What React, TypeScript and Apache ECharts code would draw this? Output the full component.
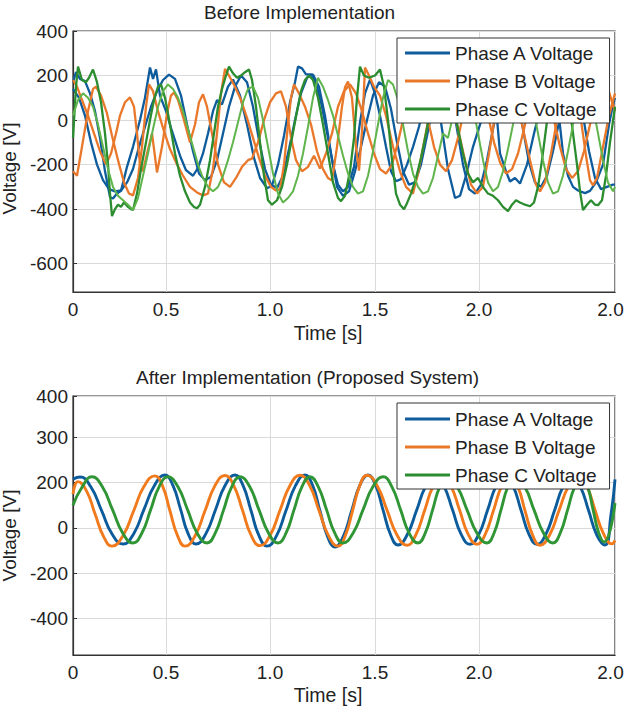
import React, { useEffect, useRef } from "react";
import * as echarts from "echarts";

const FONT = "'Liberation Sans', Arial, Helvetica, sans-serif";

const seriesNames = ["Phase A Voltage", "Phase B Voltage", "Phase C Voltage"];

const xTickValues = [0, 0.465, 0.985, 1.51, 2.03, 2.71];
const xTickLabels = ["0", "0.5", "1.0", "1.5", "2.0", "2.0"];
const topYTickValues = [-642, -400, -200, 0, 200, 400];
const topYTickLabels = ["-600", "-400", "-200", "0", "200", "400"];
const bottomYTickValues = [-400, -200, 0, 200, 400, 583];
const bottomYTickLabels = ["-400", "-200", "0", "200", "300", "400"];

// ---- Before Implementation (distorted) ----
const beforeA1 = [[0,170],[0.015,215],[0.035,185],[0.06,175],[0.085,120],[0.11,40],[0.135,-80],[0.16,-230],[0.185,-345],[0.2,-352],[0.22,-330],[0.24,-318],[0.27,-210],[0.3,-120],[0.335,0],[0.36,100],[0.385,236],[0.4,185],[0.415,228],[0.435,110],[0.465,40],[0.495,-50],[0.535,-160],[0.565,-225],[0.6,-250],[0.625,-215],[0.65,-150],[0.675,-60],[0.7,40],[0.72,90],[0.745,70],[0.775,150],[0.8,182],[0.835,110],[0.87,-20],[0.905,-170],[0.935,-260],[0.97,-306],[0.995,-295],[1.025,-200],[1.055,-70],[1.085,80],[1.11,170],[1.125,240],[1.145,232],[1.165,205],[1.195,205],[1.22,150],[1.245,60],[1.275,-80],[1.3,-200],[1.325,-290],[1.35,-320],[1.375,-300],[1.405,-210],[1.435,-10],[1.46,120],[1.485,182],[1.51,120],[1.535,20],[1.565,-120],[1.59,-230],[1.615,-275],[1.64,-265],[1.67,-200],[1.7,-120],[1.73,-30],[1.76,90],[1.785,180],[1.815,130],[1.845,-40],[1.875,-220],[1.91,-350],[1.935,-340],[1.965,-250],[2.0,-120],[2.035,-20],[2.065,60],[2.09,150],[2.115,60],[2.135,-150],[2.165,-230],[2.185,-276],[2.21,-260],[2.235,-285],[2.27,-200],[2.305,-60],[2.335,50],[2.37,120],[2.395,150],[2.42,100],[2.45,-150],[2.475,-250],[2.5,-300],[2.525,-316],[2.56,-328],[2.585,-318],[2.615,-280],[2.65,-200],[2.68,-20],[2.7,70],[2.71,100]];

const beforeA2 = [[0,140],[0.03,100],[0.06,20],[0.09,-100],[0.12,-200],[0.15,-270],[0.18,-310],[0.21,-320],[0.24,-316],[0.27,-280],[0.3,-220],[0.33,-120],[0.36,-30],[0.39,60],[0.42,130],[0.45,180],[0.48,204],[0.51,185],[0.54,110],[0.57,-20],[0.6,-140],[0.63,-240],[0.66,-270],[0.69,-255],[0.72,-180],[0.75,-60],[0.78,60],[0.81,150],[0.84,200],[0.87,170],[0.9,60],[0.93,-90],[0.96,-220],[0.99,-290],[1.02,-305],[1.05,-250],[1.08,-130],[1.11,0],[1.14,120],[1.17,190],[1.2,205],[1.23,150],[1.26,20],[1.29,-150],[1.32,-300],[1.35,-340],[1.38,-320],[1.41,-230],[1.44,-120],[1.47,0],[1.5,110],[1.53,170],[1.56,150],[1.59,50],[1.62,-100],[1.65,-230],[1.68,-290],[1.71,-280],[1.74,-200],[1.77,-70],[1.8,60],[1.83,170],[1.86,190],[1.89,120],[1.92,-40],[1.95,-200],[1.98,-310],[2.01,-330],[2.04,-290],[2.07,-180],[2.1,-40],[2.13,90],[2.16,180],[2.19,190],[2.22,110],[2.25,-40],[2.28,-190],[2.31,-280],[2.34,-300],[2.37,-250],[2.4,-140],[2.43,-10],[2.46,120],[2.49,180],[2.52,140],[2.55,20],[2.58,-140],[2.61,-260],[2.64,-310],[2.67,-300],[2.7,-290],[2.71,-290]];

const beforeB1 = [[0,-230],[0.02,-250],[0.045,-120],[0.075,40],[0.1,140],[0.115,150],[0.14,110],[0.17,30],[0.195,-70],[0.225,-180],[0.255,-280],[0.28,-330],[0.3,-338],[0.325,-260],[0.345,-120],[0.365,60],[0.38,160],[0.4,130],[0.425,40],[0.455,-50],[0.485,-130],[0.515,-190],[0.55,-250],[0.585,-300],[0.62,-325],[0.65,-338],[0.675,-330],[0.7,-220],[0.72,-60],[0.74,120],[0.76,230],[0.78,200],[0.81,150],[0.84,90],[0.87,10],[0.9,-80],[0.93,-170],[0.96,-250],[0.99,-300],[1.015,-316],[1.035,-310],[1.055,-200],[1.075,-20],[1.09,100],[1.105,160],[1.13,120],[1.16,60],[1.19,-20],[1.22,-140],[1.25,-220],[1.275,-260],[1.295,-271],[1.32,-120],[1.345,60],[1.36,147],[1.375,173],[1.395,100],[1.415,-120],[1.43,-227],[1.445,-50],[1.46,236],[1.48,200],[1.505,150],[1.535,110],[1.565,20],[1.6,-120],[1.635,-230],[1.665,-300],[1.7,-330],[1.725,-240],[1.755,-100],[1.785,40],[1.815,150],[1.84,220],[1.865,180],[1.895,80],[1.925,-40],[1.96,-180],[1.99,-290],[2.02,-329],[2.05,-300],[2.08,-150],[2.11,20],[2.14,150],[2.17,210],[2.2,160],[2.23,40],[2.26,-80],[2.29,-200],[2.315,-290],[2.335,-320],[2.36,-280],[2.39,-150],[2.42,0],[2.45,140],[2.48,200],[2.505,160],[2.535,30],[2.565,-160],[2.585,-270],[2.6,-293],[2.62,-260],[2.65,-120],[2.68,20],[2.71,120]];

const beforeB2 = [[0,180],[0.02,150],[0.045,90],[0.075,20],[0.105,-60],[0.135,-140],[0.165,-200],[0.19,-150],[0.215,-60],[0.235,20],[0.26,80],[0.285,102],[0.305,60],[0.32,-60],[0.335,-200],[0.35,-230],[0.37,-150],[0.395,-60],[0.42,-235],[0.445,-120],[0.47,30],[0.49,110],[0.505,124],[0.525,90],[0.555,0],[0.585,-100],[0.61,-20],[0.63,80],[0.65,116],[0.67,60],[0.695,-60],[0.725,-200],[0.755,-280],[0.785,-300],[0.815,-260],[0.845,-210],[0.875,-180],[0.895,-173],[0.925,-100],[0.955,0],[0.985,80],[1.015,120],[1.04,129],[1.065,60],[1.09,-80],[1.115,-180],[1.145,-230],[1.175,-210],[1.205,-160],[1.235,-218],[1.265,-150],[1.295,-60],[1.325,60],[1.355,130],[1.385,160],[1.415,120],[1.445,40],[1.475,-60],[1.505,-150],[1.535,-220],[1.565,-240],[1.595,-200],[1.625,-100],[1.655,20],[1.685,130],[1.715,180],[1.745,120],[1.775,0],[1.805,-120],[1.835,-200],[1.865,-230],[1.895,-180],[1.925,-80],[1.955,40],[1.985,150],[2.015,190],[2.045,130],[2.075,20],[2.105,-100],[2.135,-190],[2.165,-240],[2.195,-220],[2.225,-150],[2.255,-40],[2.285,80],[2.315,170],[2.345,190],[2.375,120],[2.405,0],[2.435,-120],[2.465,-220],[2.495,-260],[2.525,-230],[2.555,-140],[2.585,-20],[2.615,100],[2.645,170],[2.675,140],[2.71,40]];

const beforeC1 = [[0,-80],[0.015,150],[0.025,240],[0.045,180],[0.065,170],[0.08,190],[0.1,227],[0.12,170],[0.14,80],[0.16,-60],[0.175,-200],[0.185,-330],[0.195,-431],[0.21,-400],[0.225,-380],[0.24,-390],[0.255,-370],[0.275,-390],[0.29,-400],[0.3,-404],[0.32,-330],[0.34,-220],[0.365,-100],[0.385,0],[0.405,90],[0.425,150],[0.44,160],[0.46,100],[0.485,-20],[0.51,-150],[0.535,-250],[0.56,-320],[0.585,-370],[0.605,-390],[0.62,-396],[0.635,-380],[0.66,-300],[0.685,-180],[0.705,-60],[0.725,60],[0.745,140],[0.765,200],[0.78,240],[0.8,210],[0.82,190],[0.84,200],[0.86,215],[0.88,227],[0.895,180],[0.915,60],[0.935,-100],[0.955,-250],[0.975,-360],[0.995,-380],[1.02,-360],[1.045,-300],[1.07,-200],[1.095,-80],[1.12,40],[1.14,130],[1.16,180],[1.18,200],[1.2,180],[1.225,100],[1.25,-20],[1.275,-150],[1.3,-280],[1.325,-350],[1.34,-364],[1.36,-340],[1.385,-230],[1.405,-80],[1.42,100],[1.435,240],[1.455,200],[1.48,190],[1.51,200],[1.535,227],[1.555,150],[1.575,0],[1.595,-180],[1.615,-330],[1.635,-380],[1.655,-400],[1.67,-373],[1.69,-330],[1.715,-260],[1.74,-170],[1.765,-60],[1.79,60],[1.815,150],[1.84,210],[1.87,180],[1.9,80],[1.925,-40],[1.95,-150],[1.975,-240],[2.0,-280],[2.025,-260],[2.05,-300],[2.075,-330],[2.1,-340],[2.125,-360],[2.15,-390],[2.175,-409],[2.195,-380],[2.215,-360],[2.235,-370],[2.26,-380],[2.285,-387],[2.305,-370],[2.325,-300],[2.345,-180],[2.365,-40],[2.385,100],[2.41,200],[2.435,220],[2.46,180],[2.48,80],[2.5,-60],[2.52,-200],[2.535,-320],[2.55,-404],[2.57,-380],[2.59,-360],[2.61,-380],[2.625,-382],[2.645,-360],[2.665,-250],[2.685,-100],[2.71,60]];

const beforeC2 = [[0,20],[0.025,90],[0.05,120],[0.075,100],[0.1,60],[0.125,-20],[0.15,-120],[0.175,-220],[0.2,-300],[0.225,-340],[0.25,-360],[0.275,-380],[0.3,-404],[0.325,-350],[0.35,-250],[0.375,-150],[0.4,-40],[0.425,60],[0.45,130],[0.475,160],[0.5,140],[0.525,100],[0.55,40],[0.575,-40],[0.6,-120],[0.625,-200],[0.65,-260],[0.675,-300],[0.7,-320],[0.725,-300],[0.75,-250],[0.775,-180],[0.8,-100],[0.825,-10],[0.85,80],[0.875,140],[0.9,150],[0.925,100],[0.95,0],[0.975,-120],[1.0,-240],[1.025,-330],[1.05,-370],[1.075,-350],[1.1,-320],[1.125,-250],[1.15,-150],[1.175,-30],[1.2,100],[1.225,190],[1.25,150],[1.275,90],[1.3,20],[1.325,-70],[1.35,-160],[1.375,-240],[1.4,-300],[1.425,-330],[1.45,-320],[1.475,-250],[1.5,-140],[1.525,-20],[1.55,100],[1.575,180],[1.6,160],[1.625,90],[1.65,-20],[1.675,-140],[1.7,-240],[1.725,-300],[1.75,-330],[1.775,-320],[1.8,-260],[1.825,-160],[1.85,-60],[1.875,-80],[1.9,20],[1.925,120],[1.95,180],[1.975,150],[2.0,60],[2.025,-60],[2.05,-180],[2.075,-280],[2.1,-320],[2.125,-300],[2.15,-230],[2.175,-130],[2.2,-20],[2.225,100],[2.25,170],[2.275,150],[2.3,60],[2.325,-60],[2.35,-180],[2.375,-280],[2.4,-330],[2.425,-320],[2.45,-250],[2.475,-140],[2.5,-20],[2.525,100],[2.55,170],[2.575,150],[2.6,60],[2.625,-60],[2.65,-180],[2.675,-280],[2.7,-320],[2.71,-300]];

// ---- After Implementation (balanced) ----
const afterA = [[0,215],[0.035,225],[0.089,182],[0.143,77],[0.196,-28],[0.25,-71],[0.303,-26],[0.355,82],[0.408,189],[0.46,234],[0.499,189],[0.538,82],[0.576,-26],[0.615,-71],[0.664,-26],[0.713,82],[0.761,189],[0.81,234],[0.85,188],[0.89,77],[0.93,-34],[0.97,-80],[1.018,-34],[1.065,77],[1.113,188],[1.16,234],[1.198,188],[1.235,75],[1.273,-38],[1.31,-84],[1.351,-38],[1.393,75],[1.434,188],[1.475,234],[1.513,189],[1.55,80],[1.588,-30],[1.625,-75],[1.671,-30],[1.718,78],[1.764,185],[1.81,230],[1.854,186],[1.898,79],[1.941,-28],[1.985,-72],[2.029,-28],[2.073,79],[2.116,186],[2.16,230],[2.2,186],[2.24,79],[2.28,-28],[2.32,-72],[2.364,-28],[2.408,78],[2.451,184],[2.495,228],[2.536,184],[2.578,77],[2.619,-31],[2.66,-75],[2.69,60],[2.71,215]];

const afterB = [[0,150],[0.025,205],[0.068,163],[0.11,63],[0.153,-38],[0.195,-80],[0.249,-35],[0.303,75],[0.356,185],[0.41,230],[0.448,185],[0.485,75],[0.523,-35],[0.56,-80],[0.61,-35],[0.66,76],[0.71,187],[0.76,232],[0.804,187],[0.848,77],[0.891,-33],[0.935,-78],[0.985,-33],[1.035,78],[1.085,188],[1.135,233],[1.183,188],[1.23,77],[1.278,-35],[1.325,-80],[1.361,-35],[1.398,77],[1.434,188],[1.47,233],[1.52,188],[1.57,79],[1.62,-31],[1.67,-76],[1.714,-31],[1.758,77],[1.801,185],[1.845,230],[1.889,186],[1.933,79],[1.976,-28],[2.02,-72],[2.061,-28],[2.103,79],[2.144,186],[2.185,230],[2.223,185],[2.26,77],[2.298,-31],[2.335,-76],[2.383,-31],[2.43,77],[2.478,185],[2.525,230],[2.568,186],[2.61,80],[2.653,-26],[2.695,-70],[2.71,-55]];

const afterC = [[0,100],[0.045,180],[0.095,226],[0.146,183],[0.198,80],[0.249,-23],[0.3,-66],[0.344,-23],[0.388,80],[0.431,183],[0.475,226],[0.524,183],[0.573,80],[0.621,-23],[0.67,-66],[0.711,-23],[0.753,80],[0.794,183],[0.835,226],[0.883,183],[0.93,80],[0.978,-23],[1.025,-66],[1.065,-23],[1.105,80],[1.145,183],[1.185,226],[1.226,183],[1.268,80],[1.309,-23],[1.35,-66],[1.4,-23],[1.45,80],[1.5,183],[1.55,226],[1.594,183],[1.638,80],[1.681,-23],[1.725,-66],[1.761,-23],[1.798,80],[1.834,183],[1.87,226],[1.92,183],[1.97,80],[2.02,-23],[2.07,-66],[2.105,-23],[2.14,80],[2.175,183],[2.21,226],[2.258,183],[2.305,80],[2.353,-23],[2.4,-66],[2.436,-23],[2.473,80],[2.509,183],[2.545,226],[2.573,183],[2.6,82],[2.628,-20],[2.655,-62],[2.71,110]];

const COLORS = {
  blue: "#0e5c9c",
  orange: "#e9782a",
  green: "#2b8d30",
  lightGreen: "#5fb44c",
  blue2: "#0c5b9b",
  orange2: "#f07a1c",
  green2: "#2f9535",
};

function nearestIndex(values: number[], v: number) {
  let best = -1;
  let bd = Infinity;
  values.forEach((t, i) => {
    const d = Math.abs(t - v);
    if (d < bd) {
      bd = d;
      best = i;
    }
  });
  return bd < 1e-6 * Math.max(1, Math.abs(v)) + 1e-6 ? best : -1;
}

function pickLabel(values: number[], labels: string[]) {
  return (v: number) => {
    const i = nearestIndex(values, v);
    return i >= 0 ? labels[i] : "";
  };
}

function pickXLabel(v: number) {
  const i = nearestIndex(xTickValues, v);
  if (i < 0) return "";
  if (i === xTickValues.length - 1) return "{e|" + xTickLabels[i] + "}";
  return xTickLabels[i];
}

function lineSeries(name: string, data: number[][], color: string, width: number, idx: number, smooth: boolean) {
  return {
    type: "line",
    name,
    data,
    xAxisIndex: idx,
    yAxisIndex: idx,
    symbol: "none",
    showSymbol: false,
    smooth,
    lineStyle: { color, width },
    itemStyle: { color },
    emphasis: { disabled: true },
    animation: false,
  };
}

export default function App() {
  const ref = useRef<HTMLDivElement>(null);

  useEffect(() => {
    if (!ref.current) return;
    const chart = echarts.init(ref.current, undefined, { renderer: "svg" });

    const textColor = "#222";
    const xAxisCommon = (idx: number, gap: number) => ({
      type: "value",
      gridIndex: idx,
      min: 0,
      max: 2.71,
      name: "Time [s]",
      nameLocation: "middle",
      nameGap: gap,
      nameTextStyle: { fontSize: 19.5, color: textColor, fontFamily: FONT, padding: [0, 32, 0, 0] },
      axisLine: { show: true, onZero: false, lineStyle: { color: "#333", width: 1.2 } },
      axisTick: { show: false, customValues: xTickValues },
      axisLabel: {
        customValues: xTickValues,
        formatter: pickXLabel,
        fontSize: 19,
        color: textColor,
        fontFamily: FONT,
        margin: 8,
        rich: {
          e: { fontSize: 19, color: textColor, fontFamily: FONT, padding: [0, 9, 0, 0] },
        },
      },
      splitLine: { show: true, lineStyle: { color: "#dadada", width: 1 } },
    });

    const yAxisCommon = (idx: number, min: number, max: number, vals: number[], labs: string[], pad: number) => ({
      type: "value",
      gridIndex: idx,
      min,
      max,
      name: "Voltage [V]",
      nameLocation: "middle",
      nameGap: 41,
      nameTextStyle: { fontSize: 19, color: textColor, fontFamily: FONT, padding: [0, pad, 0, 0] },
      axisLine: { show: true, onZero: false, lineStyle: { color: "#333", width: 1.2 } },
      axisTick: { show: true, inside: true, length: 4, customValues: vals, lineStyle: { color: "#333" } },
      axisLabel: {
        customValues: vals,
        formatter: pickLabel(vals, labs),
        fontSize: 19,
        color: textColor,
        fontFamily: FONT,
        margin: 5,
      },
      splitLine: { show: true, lineStyle: { color: "#dadada", width: 1 } },
    });

    const legendCommon = (top: number, pad: number[]) => ({
      data: seriesNames,
      orient: "vertical",
      left: 397,
      top,
      icon: "rect",
      itemWidth: 45,
      itemHeight: 3,
      itemGap: 8,
      padding: pad,
      backgroundColor: "#ffffff",
      borderColor: "#333",
      borderWidth: 1,
      borderRadius: 0,
      selectedMode: false,
      textStyle: { fontSize: 19, color: textColor, fontFamily: FONT, lineHeight: 20 },
      z: 10,
    });

    const gridCommon = (top: number, height: number) => ({
      left: 73,
      right: 10,
      top,
      height,
      containLabel: false,
      outerBoundsMode: "none",
      show: true,
      borderColor: "#333",
      borderWidth: 1.2,
      backgroundColor: "transparent",
    });

    const option = {
      animation: false,
      backgroundColor: "#ffffff",
      textStyle: { fontFamily: FONT },
      title: [
        {
          text: "Before Implementation",
          left: 204,
          top: 3,
          padding: 0,
          textStyle: { fontSize: 19, fontWeight: "normal", color: textColor, fontFamily: FONT },
        },
        {
          text: "After Implementation (Proposed System)",
          left: 136,
          top: 368,
          padding: 0,
          textStyle: { fontSize: 19, fontWeight: "normal", color: textColor, fontFamily: FONT },
        },
      ],
      legend: [legendCommon(38, [5, 13, 4, 8]), legendCommon(403, [6, 13, 4, 8])],
      grid: [gridCommon(31, 261), gridCommon(396, 259)],
      xAxis: [xAxisCommon(0, 31), xAxisCommon(1, 30)],
      yAxis: [
        yAxisCommon(0, -772, 400, topYTickValues, topYTickLabels, 14),
        yAxisCommon(1, -561, 583, bottomYTickValues, bottomYTickLabels, 20),
      ],
      series: [
        lineSeries(seriesNames[0], beforeA1, COLORS.blue, 2.3, 0, false),
        lineSeries(seriesNames[0], beforeA2, COLORS.blue, 2.3, 0, false),
        lineSeries(seriesNames[1], beforeB1, COLORS.orange, 2.3, 0, false),
        lineSeries(seriesNames[1], beforeB2, COLORS.orange, 2.3, 0, false),
        lineSeries(seriesNames[2], beforeC1, COLORS.green, 2.3, 0, false),
        lineSeries(seriesNames[2], beforeC2, COLORS.lightGreen, 2.0, 0, false),
        lineSeries(seriesNames[0], afterA, COLORS.blue2, 2.9, 1, true),
        lineSeries(seriesNames[1], afterB, COLORS.orange2, 2.9, 1, true),
        lineSeries(seriesNames[2], afterC, COLORS.green2, 2.9, 1, true),
      ],
    };

    chart.setOption(option as any);
    return () => {
      chart.dispose();
    };
  }, []);

  return (
    <div
      ref={ref}
      style={{ position: "fixed", left: 0, top: 0, width: 625, height: 708, background: "#fff" }}
    />
  );
}
